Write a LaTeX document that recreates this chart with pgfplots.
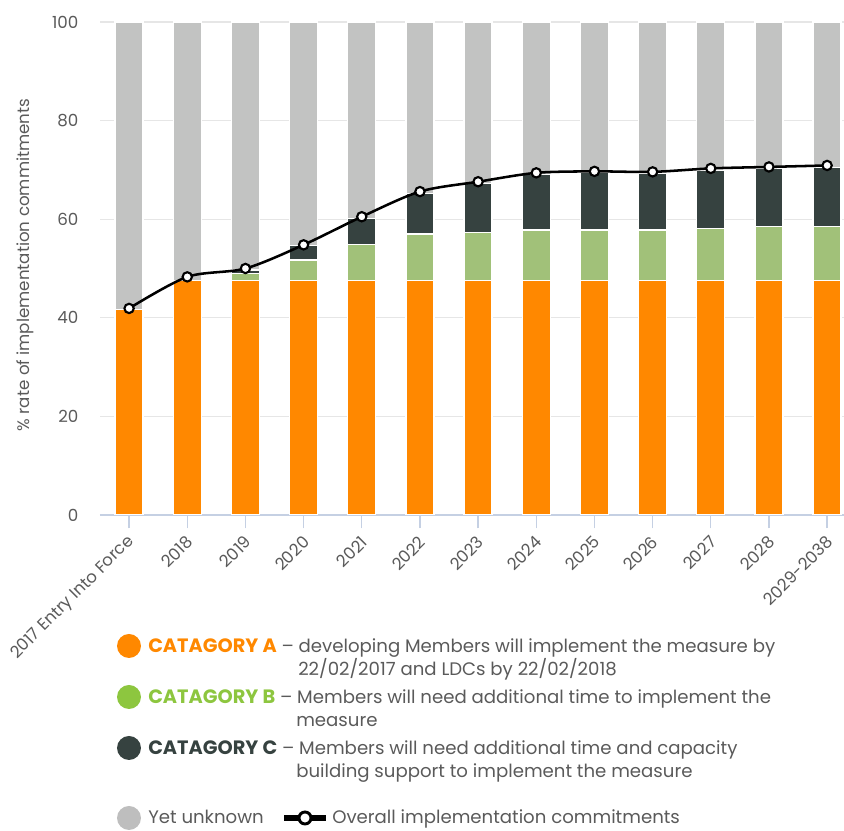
\documentclass[border=0pt]{standalone}
\usepackage{pgfplots}
\usepackage{pgfplotstable}
\pgfplotsset{compat=1.18}
\usepackage{fontspec}
\setmainfont{Poppins}
\definecolor{catA}{HTML}{FF8800}
\definecolor{catB}{HTML}{A1C179}
\definecolor{catBt}{HTML}{8DC63F}
\definecolor{catC}{HTML}{364240}
\definecolor{unk}{HTML}{C2C3C2}
\definecolor{unkL}{HTML}{BEBEBE}
\definecolor{txt}{HTML}{5A5A5A}
\definecolor{axisblue}{HTML}{C5D0E3}
\definecolor{gridc}{HTML}{E6E6E6}

\pgfplotstableread{
x A B C U L
0 41.7 0 0 58.3 41.9
1 47.5 0 0 52.5 48.3
2 47.5 1.5 0.7 50.3 50.0
3 47.5 4.2 2.9 45.4 54.8
4 47.5 7.4 5.3 39.8 60.5
5 47.5 9.5 8.2 34.8 65.6
6 47.5 9.8 10.0 32.7 67.6
7 47.5 10.3 11.3 30.9 69.4
8 47.5 10.3 11.8 30.4 69.7
9 47.5 10.3 11.6 30.6 69.6
10 47.5 10.6 11.9 30.0 70.3
11 47.5 11.0 11.8 29.7 70.6
12 47.5 11.0 12.0 29.5 70.9
}\data

\newcommand{\bld}[2]{\textcolor{#1}{\fontsize{14.5}{16}\selectfont\bfseries #2}}

\begin{document}
\begin{tikzpicture}
\begin{axis}[
  at={(0,0)}, anchor=south west, scale only axis,
  width=558pt, height=369.75pt,
  xmin=-0.5, xmax=12.29, ymin=0, ymax=100,
  ybar stacked, bar width=21pt,
  axis x line*=bottom, axis y line*=left,
  y axis line style={draw=none},
  x axis line style={draw=axisblue, line width=1.2pt, -},
  ytick={0,20,...,100},
  ymajorgrids, grid style={draw=gridc, line width=1pt},
  xtick={0,...,12},
  xticklabels={2017 Entry Into Force,2018,2019,2020,2021,2022,2023,2024,2025,2026,2027,2028,2029-2038},
  tick align=outside, major tick length=10pt,
  xtick style={draw=axisblue, line width=1pt},
  ytick style={draw=none},
  /pgf/number format/assume math mode=true,
  xticklabel style={yshift=-8pt, xshift=2pt, rotate=45, anchor=east, inner sep=0pt, font=\fontsize{12.5}{14}\selectfont, text=txt},
  yticklabel style={xshift=-6pt, font=\fontsize{12.5}{14}\selectfont, text=txt, anchor=east, inner sep=0pt},
  ylabel={\% rate of implementation commitments},
  every axis y label/.style={at={(axis description cs:-0.1008,0.507)}, rotate=90, anchor=center, font=\fontsize{12.5}{14}\selectfont, text=txt},
  every axis plot/.append style={draw=white, line width=1pt},
]
\addplot[fill=catA] table[x=x,y=A]{\data};
\addplot[fill=catB] table[x=x,y=B]{\data};
\addplot[fill=catC] table[x=x,y=C]{\data};
\addplot[fill=unk] table[x=x,y=U]{\data};
\end{axis}

\begin{axis}[
  at={(0,0)}, anchor=south west, scale only axis,
  width=558pt, height=369.75pt,
  xmin=-0.5, xmax=12.29, ymin=0, ymax=100,
  hide axis, clip=false,
]
\addplot[black, line width=1.9pt, smooth, mark=*, mark size=3.5pt,
  mark options={fill=white, draw=black, line width=1.6pt}] table[x=x,y=L]{\data};
\end{axis}

\begin{scope}[shift={(-75pt,386.25pt)}, x=0.75pt, y=-0.75pt,
  every node/.style={anchor=base west, inner sep=0pt, font=\fontsize{13.6}{16}\selectfont, text=txt}]
\fill[catA] (129,646) circle[radius=12];
\node at (148,653) {\bld{catA}{CATAGORY A} – developing Members will implement the measure by};
\node at (298,676) {22/02/2017 and LDCs by 22/02/2018};
\fill[catBt] (129,697) circle[radius=12];
\node at (148,704) {\bld{catBt}{CATAGORY B} – Members will need additional time to implement the};
\node at (296,727) {measure};
\fill[catC] (129,748) circle[radius=12];
\node at (148,755) {\bld{catC}{CATAGORY C} – Members will need additional time and capacity};
\node at (296,778) {building support to implement the measure};
\fill[unkL] (129,818) circle[radius=12];
\node at (148,824) {Yet unknown};
\draw[black, line width=4pt] (284,818) -- (326,818);
\draw[black, fill=white, line width=2.2pt] (305,818) circle[radius=6];
\node at (332,824) {Overall implementation commitments};
\pgfresetboundingbox
\path[use as bounding box] (0,0) rectangle (844,831);
\end{scope}
\end{tikzpicture}
\end{document}
